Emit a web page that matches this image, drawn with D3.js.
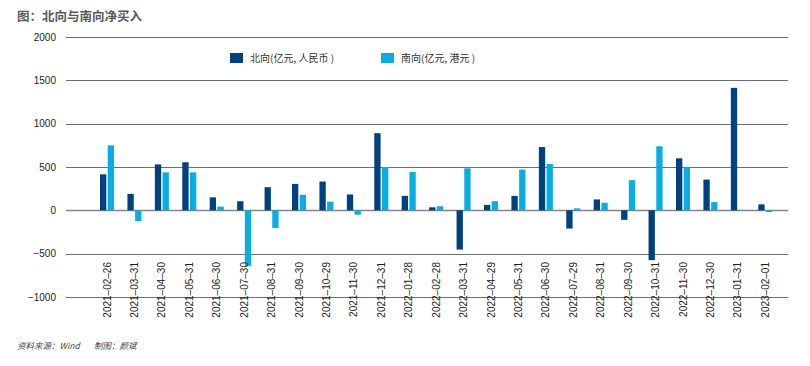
<!DOCTYPE html>
<html>
<head>
<meta charset="utf-8">
<script src="https://cdn.jsdelivr.net/npm/d3@7"></script>
<style>
  body { margin: 0; background: #fff; }
  svg { display: block; font-family: "Liberation Sans", Arial, "Noto Sans CJK SC", sans-serif; }
  .title { font-family: "Noto Sans CJK SC", sans-serif; font-weight: bold; font-size: 12.5px; fill: #595959; }
  .legend text { font-family: "Noto Sans CJK SC", sans-serif; font-size: 10px; fill: #333; }
  .note { font-family: "Noto Sans CJK SC", sans-serif; font-size: 8.5px; fill: #444; font-style: italic; }
  .yaxis text, .xaxis text { font-size: 10px; fill: #222; }
</style>
</head>
<body>
<svg width="810" height="366"></svg>
<script>
// data
var dates = ["2021-02-26","2021-03-31","2021-04-30","2021-05-31","2021-06-30","2021-07-30",
  "2021-08-31","2021-09-30","2021-10-29","2021-11-30","2021-12-31","2022-01-28","2022-02-28",
  "2022-03-31","2022-04-29","2022-05-31","2022-06-30","2022-07-29","2022-08-31","2022-09-30",
  "2022-10-31","2022-11-30","2022-12-30","2023-01-31","2023-02-01"];
var northbound = [415, 190, 530, 555, 150, 105, 267, 305, 332, 183, 890, 167, 35,
  -453, 63, 167, 730, -210, 126, -110, -575, 600, 355, 1413, 69];
var southbound = [750, -125, 438, 438, 43, -640, -205, 179, 100, -50, 500, 442, 47,
  485, 105, 470, 535, 23, 88, 348, 739, 502, 95, 5, -20];
var yTicks = [-1000, -500, 0, 500, 1000, 1500, 2000];
var seriesNames = ["北向(亿元, 人民币 )", "南向(亿元, 港元 )"];
var seriesColors = ["#00427f", "#08aee2"];

var svg = d3.select("svg");

var y = d3.scaleLinear().domain([-1000, 2000]).range([297, 37]);
var x = d3.scaleBand().domain(dates).range([93.3, 779]).padding(0);
var x1 = d3.scaleBand().domain([0, 1]).range([0, x.bandwidth()])
  .paddingInner(0.18).paddingOuter(0.87);

// title
svg.append("text").attr("class", "title").attr("x", 17).attr("y", 21).text("图：北向与南向净买入");

// gridlines
svg.append("g").selectAll("line")
  .data(yTicks)
  .join("line")
  .attr("x1", 66).attr("x2", 788)
  .attr("y1", d => Math.round(y(d)) + 0.5).attr("y2", d => Math.round(y(d)) + 0.5)
  .attr("stroke", d => d === 0 ? "#858585" : "#6f6f6f")
  .attr("stroke-width", d => d === 0 ? 1.6 : 1.1);

// y axis labels
var yAxis = svg.append("g").attr("class", "yaxis")
  .attr("transform", "translate(56,0)")
  .call(d3.axisLeft(y).tickValues(yTicks).tickSize(0).tickPadding(0).tickFormat(d => d < 0 ? "−" + (-d) : d));
yAxis.select(".domain").remove();

// bars
var rows = dates.map((d, i) => ({ date: d, values: [northbound[i], southbound[i]] }));
var groups = svg.append("g").selectAll("g")
  .data(rows)
  .join("g")
  .attr("transform", d => "translate(" + x(d.date) + ",0)");

groups.selectAll("rect")
  .data(d => d.values.map((v, k) => ({ k: k, v: v })))
  .join("rect")
  .attr("x", d => x1(d.k))
  .attr("width", x1.bandwidth())
  .attr("y", d => y(Math.max(0, d.v)))
  .attr("height", d => Math.abs(y(d.v) - y(0)))
  .attr("fill", d => seriesColors[d.k]);

// x axis labels
var xAxis = svg.append("g").attr("class", "xaxis")
  .attr("transform", "translate(0,262)")
  .call(d3.axisBottom(x).tickSize(0).tickFormat(d => d.replace(/-/g, "–")));
xAxis.select(".domain").remove();
xAxis.selectAll("text")
  .attr("x", 0).attr("y", 0).attr("dy", "0.35em")
  .attr("transform", "rotate(-90)")
  .style("text-anchor", "end");

// legend
var legend = svg.append("g").attr("class", "legend");
var legendX = [230, 381];
seriesNames.forEach(function(name, k) {
  legend.append("rect").attr("x", legendX[k]).attr("y", 53).attr("width", 13).attr("height", 10)
    .attr("fill", seriesColors[k]);
  legend.append("text").attr("x", legendX[k] + 20).attr("y", 62).text(name);
});

// footer
svg.append("text").attr("class", "note").attr("x", 17).attr("y", 349).text("资料来源：Wind");
svg.append("text").attr("class", "note").attr("x", 94).attr("y", 349).text("制图：颜斌");
</script>
</body>
</html>
